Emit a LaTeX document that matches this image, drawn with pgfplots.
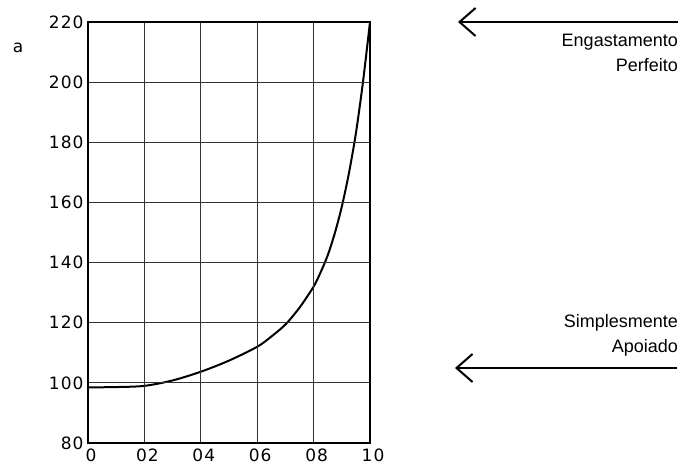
\documentclass[border=0pt]{standalone}
\usepackage{pgfplots}
\pgfplotsset{compat=1.18}
\usepackage{fontspec}
\setmainfont{Liberation Sans}
\newfontfamily\tickfont[LetterSpace=6]{DejaVu Sans}
\usetikzlibrary{arrows.meta}
\begin{document}
\begin{tikzpicture}[x=1pt,y=1pt]
\path[use as bounding box, fill=white] (0,0) rectangle (695,465);
\begin{axis}[
  at={(88pt,22pt)}, anchor=south west,
  width=282pt, height=421pt, scale only axis,
  xmin=0, xmax=1, ymin=80, ymax=220,
  xtick={0,0.2,0.4,0.6,0.8,1},
  xticklabels={0,02,04,06,08,10},
  ytick={80,100,120,140,160,180,200,220},
  grid=major,
  major grid style={line width=1.2pt, black!80},
  axis line style={line width=1.8pt},
  major tick length=0pt,
  tick label style={font=\tickfont\fontsize{17}{17}\selectfont},
  xticklabel style={yshift=-2pt, xshift=3pt},
  yticklabel style={xshift=-1pt},
  /pgf/number format/assume math mode=true,
  axis on top,
]
\addplot[black, line width=2pt, smooth] coordinates {
(0,98.5) (0.1,98.6) (0.2,99.0) (0.3,100.8) (0.4,103.7) (0.5,107.4)
(0.6,112.0) (0.65,115.4) (0.7,119.4) (0.75,125.0) (0.8,132.0) (0.825,136.8) (0.85,142.4)
(0.875,149.7) (0.9,158.6) (0.925,169.6) (0.95,183.0) (0.975,200.0) (1.0,220.0)
};
\end{axis}
\node[font=\tickfont\fontsize{17}{17}\selectfont] at (18,417) {a};
\draw[line width=2pt, -{Straight Barb[length=16pt,width=28pt,line width=2pt]}] (678,443) -- (458,443);
\draw[line width=2pt, -{Straight Barb[length=16pt,width=28pt,line width=2pt]}] (677,97) -- (455,97);
\node[anchor=base east, font=\fontsize{18}{18}\selectfont, inner sep=0pt] at (678,418) {Engastamento};
\node[anchor=base east, font=\fontsize{18}{18}\selectfont, inner sep=0pt] at (678,393) {Perfeito};
\node[anchor=base east, font=\fontsize{18}{18}\selectfont, inner sep=0pt] at (678,137) {Simplesmente};
\node[anchor=base east, font=\fontsize{18}{18}\selectfont, inner sep=0pt] at (678,112) {Apoiado};
\end{tikzpicture}
\end{document}
